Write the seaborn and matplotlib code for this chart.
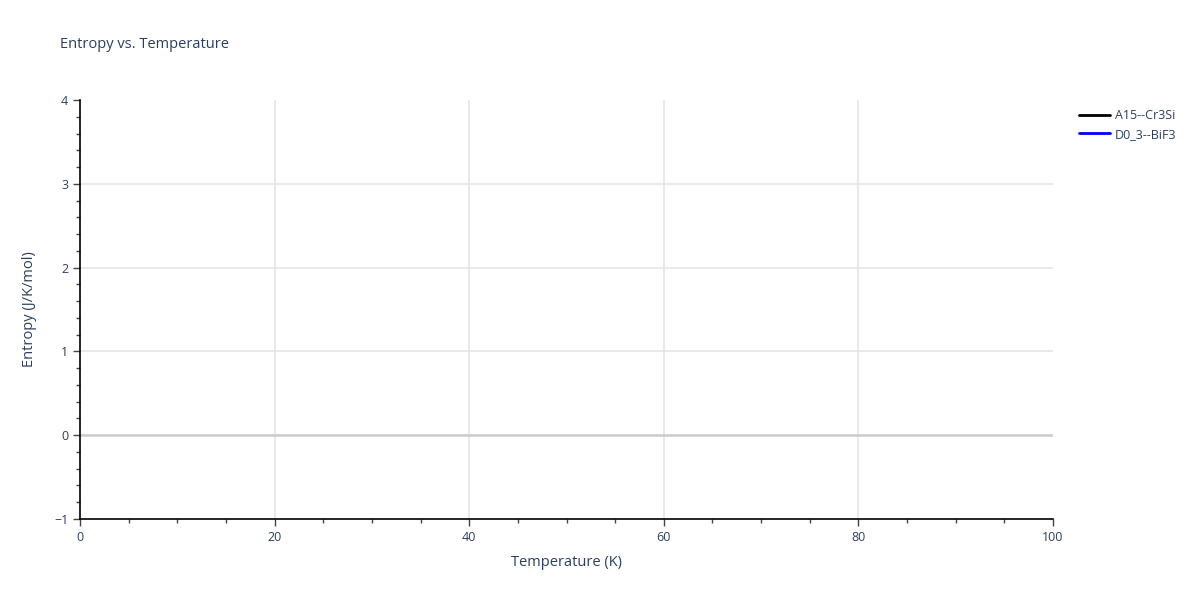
import numpy as np
import pandas as pd
import seaborn as sns
import matplotlib.pyplot as plt
from matplotlib.ticker import MultipleLocator
from matplotlib.lines import Line2D

# series shown in the legend; the reference draws no visible points for them
series_names = ["A15--Cr3Si", "D0_3--BiF3"]
series_colors = ["black", "blue"]
temperature = {"A15--Cr3Si": [], "D0_3--BiF3": []}
entropy = {"A15--Cr3Si": [], "D0_3--BiF3": []}

x_range = [0, 100]
y_range = [-1, 4]
x_ticks = [0, 20, 40, 60, 80, 100]
y_ticks = [-1, 0, 1, 2, 3, 4]
y_tick_labels = ["\u22121", "0", "1", "2", "3", "4"]

sns.set_style("white")
plt.rcParams['font.family'] = ['Open Sans', 'DejaVu Sans']
text_color = "#2a3f5f"

fig = plt.figure(figsize=(12, 6), dpi=100)
ax = fig.add_axes([80 / 1200, 1 - 519 / 600, (1053 - 80) / 1200, (519 - 100) / 600])

handles = []
for name, color in zip(series_names, series_colors):
    df = pd.DataFrame({"T": temperature[name], "S": entropy[name]}, dtype=float)
    sns.lineplot(data=df, x="T", y="S", color=color, ax=ax, legend=False)
    handles.append(Line2D([], [], color=color, lw=2, label=name))

ax.set_xlim(x_range)
ax.set_ylim(y_range)
ax.set_xticks(x_ticks)
ax.set_yticks(y_ticks)
ax.set_yticklabels(y_tick_labels)
ax.xaxis.set_minor_locator(MultipleLocator(5))
ax.yaxis.set_minor_locator(MultipleLocator(0.2))

# gridlines only inside the plot area (none on the top and right edges)
ax.grid(False)
for xv in x_ticks[1:-1]:
    ax.axvline(xv, color="#e5e5e5", lw=1.2, zorder=0)
for yv in y_ticks[1:-1]:
    ax.axhline(yv, color="#e5e5e5", lw=1.2, zorder=0)
ax.axhline(0, color="#cccccc", lw=1.8, zorder=1)

for side in ["top", "right"]:
    ax.spines[side].set_visible(False)
for side in ["left", "bottom"]:
    ax.spines[side].set_color("black")
    ax.spines[side].set_linewidth(1.2)

ax.tick_params(which="major", direction="out", length=5, width=1, color="#444444",
               labelsize=9, labelcolor=text_color, left=True, bottom=True)
ax.tick_params(which="minor", direction="out", length=3, width=1, color="#444444",
               left=True, bottom=True)

ax.set_xlabel("Temperature (K)", fontsize=10.5, color=text_color, labelpad=8)
ax.set_ylabel("Entropy (J/K/mol)", fontsize=10.5, color=text_color, labelpad=12)

fig.text(60 / 1200, 1 - 45 / 600, "Entropy vs. Temperature", fontsize=10.5,
         color=text_color, va="center", ha="left")

fig.legend(handles=handles, loc="upper left", bbox_to_anchor=(1074 / 1200, 1 - 104 / 600),
           frameon=False, fontsize=9, labelcolor=text_color, handlelength=2.5,
           handletextpad=0.4, labelspacing=0.45, borderaxespad=0)

fig.savefig("out.png", dpi=100)
